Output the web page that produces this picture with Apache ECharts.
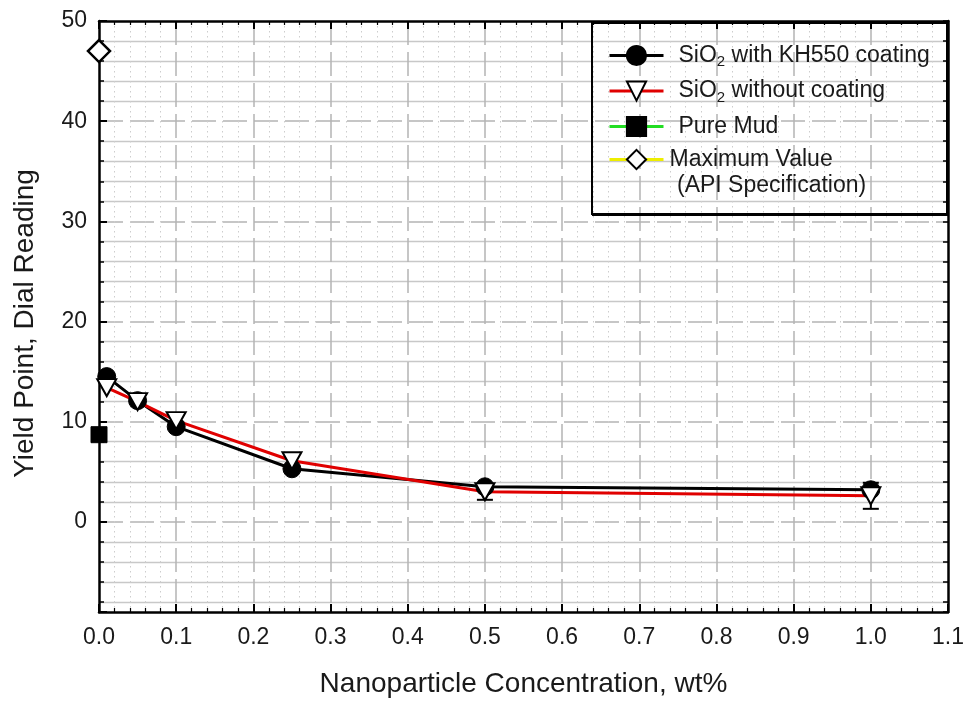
<!DOCTYPE html>
<html>
<head>
<meta charset="utf-8">
<script src="https://cdn.jsdelivr.net/npm/echarts@6/dist/echarts.min.js"></script>
<style>
  html, body { margin: 0; padding: 0; background: #ffffff; }
  #chart { width: 968px; height: 704px; }
</style>
</head>
<body>
<div id="chart"></div>
<script>
// Yield point vs. nanoparticle concentration
const concentration = [0.01, 0.05, 0.1, 0.25, 0.5, 1.0];
const withCoating = [14.5, 12.1, 9.5, 5.3, 3.5, 3.2];
const withoutCoating = [13.4, 12.0, 10.1, 6.1, 3.0, 2.6];
const withoutCoatingErr = [0, 0, 0, 0, 0.8, 1.3];
const pureMud = [[0, 8.7]];
const apiMaximum = [[0, 47]];

const seriesNames = ['SiO2 with KH550 coating', 'SiO2 without coating', 'Pure Mud', 'Maximum Value'];
const xTitle = 'Nanoparticle Concentration, wt%';
const yTitle = 'Yield Point, Dial Reading';
const apiNote = '(API Specification)';

const X_MIN = 0, X_MAX = 1.1, X_STEP = 0.1;
const Y_MIN = -9, Y_MAX = 50;

const FONT = '"Liberation Sans", Arial, sans-serif';
const TXT = '#1a1a1a';

const zip = (xs, ys) => xs.map((x, i) => [x, ys[i]]);
const errData = concentration
  .map((x, i) => [x, withoutCoating[i] - withoutCoatingErr[i], withoutCoating[i] + withoutCoatingErr[i], withoutCoatingErr[i]])
  .filter(d => d[3] > 0)
  .map(d => [d[0], d[1], d[2]]);

const chart = echarts.init(document.getElementById('chart'), null, { renderer: 'canvas' });

const frameLine = { onZero: false, lineStyle: { color: '#000', width: 2.5 } };

chart.setOption({
  animation: false,
  backgroundColor: '#ffffff',
  grid: { left: 99, right: 20, top: 21, bottom: 92, containLabel: false },
  xAxis: [
    { // bottom axis: frame, ticks, labels and grid lines
      type: 'value', position: 'bottom', min: X_MIN, max: X_MAX, interval: X_STEP,
      axisLine: frameLine,
      axisTick: { inside: true, length: 8, lineStyle: { color: '#000', width: 2 } },
      minorTick: { show: true, splitNumber: 5, length: 4, lineStyle: { color: '#000', width: 1.2 } },
      axisLabel: { formatter: v => v.toFixed(1), fontSize: 23, fontFamily: FONT, color: TXT, margin: 14 },
      splitLine: { show: true, showMinLine: false, showMaxLine: false,
        lineStyle: { color: '#b4b4b4', width: 1.5, type: [24, 7] } },
      minorSplitLine: { show: true, lineStyle: { color: '#cdcdcd', width: 1, type: [1.5, 3.5] } },
      name: xTitle, nameLocation: 'middle', nameGap: 58,
      nameTextStyle: { fontSize: 28, fontFamily: FONT, color: TXT }
    },
    { // top frame
      type: 'value', position: 'top', min: X_MIN, max: X_MAX, interval: X_STEP,
      axisLine: frameLine,
      axisTick: { inside: true, length: 8, lineStyle: { color: '#000', width: 2 } },
      minorTick: { show: true, splitNumber: 5, length: 4, lineStyle: { color: '#000', width: 1.2 } },
      axisLabel: { show: false },
      splitLine: { show: false }
    }
  ],
  yAxis: [
    { // left axis: frame, major ticks, labels, dashed major grid
      type: 'value', position: 'left', min: Y_MIN, max: Y_MAX, minInterval: 10, maxInterval: 10,
      axisLine: frameLine,
      axisTick: { inside: true, length: 8, lineStyle: { color: '#000', width: 2 } },
      axisLabel: { formatter: v => (v < 0 ? '' : String(v)), fontSize: 23, fontFamily: FONT, color: TXT, margin: 12 },
      splitLine: { show: true, showMinLine: false, showMaxLine: false,
        lineStyle: { color: '#b4b4b4', width: 1.5, type: [24, 7] } },
      name: yTitle, nameLocation: 'middle', nameGap: 60,
      nameTextStyle: { fontSize: 28, fontFamily: FONT, color: TXT, padding: [0, 14, 0, 0] }
    },
    { // left minor ticks every 2 units and solid minor grid
      type: 'value', position: 'left', min: Y_MIN, max: Y_MAX, minInterval: 2, maxInterval: 2,
      axisLine: { show: false },
      axisTick: { inside: true, length: 5, lineStyle: { color: '#000', width: 1.5 } },
      axisLabel: { show: false },
      splitLine: { show: true,
        lineStyle: { color: ['rgba(0,0,0,0)', '#c8c8c8', '#c8c8c8', '#c8c8c8', '#c8c8c8'], width: 1.3 } }
    },
    { // right frame
      type: 'value', position: 'right', min: Y_MIN, max: Y_MAX, minInterval: 2, maxInterval: 2,
      axisLine: frameLine,
      axisTick: { inside: true, length: 5, lineStyle: { color: '#000', width: 1.5 } },
      axisLabel: { show: false },
      splitLine: { show: false }
    }
  ],
  legend: {
    orient: 'vertical', left: 608, top: 44, padding: 0,
    itemWidth: 54, itemHeight: 24, itemGap: 10,
    selectedMode: false,
    lineStyle: { width: 3 },
    data: [
      { name: seriesNames[0] },
      { name: seriesNames[1] },
      { name: seriesNames[2] },
      { name: seriesNames[3], textStyle: { padding: [0, 0, 0, 1] } }
    ],
    formatter: name => name.replace('SiO2', 'SiO{sub|2}'),
    textStyle: {
      fontSize: 23, fontFamily: FONT, color: TXT, padding: [0, 0, 0, 10],
      rich: { sub: { fontSize: 15, fontFamily: FONT, color: TXT, verticalAlign: 'bottom', lineHeight: 28 } }
    }
  },
  graphic: [
    { type: 'rect', z: 10, silent: true,
      shape: { x: 592, y: 23, width: 355, height: 191 },
      style: { fill: 'none', stroke: '#000', lineWidth: 2 } },
    { type: 'polyline', z: 10, silent: true,
      shape: { points: [[948, 23], [948, 215], [592, 215]] },
      style: { fill: 'none', stroke: '#000', lineWidth: 2 } },
    { type: 'text', z: 10, silent: true, x: 677, y: 186,
      style: { text: apiNote, font: '23px ' + FONT, fill: TXT, verticalAlign: 'middle', align: 'left' } }
  ],
  series: [
    {
      name: seriesNames[0], type: 'line', data: zip(concentration, withCoating),
      symbol: 'circle', symbolSize: 18,
      lineStyle: { color: '#000', width: 3 },
      itemStyle: { color: '#000', borderColor: '#000', borderWidth: 1 }
    },
    {
      name: 'error', type: 'custom', data: errData,
      encode: { x: 0, y: [1, 2] },
      renderItem: (params, api) => {
        const x = api.value(0);
        const lo = api.coord([x, api.value(1)]);
        const hi = api.coord([x, api.value(2)]);
        const cap = 8;
        const st = { stroke: '#000', lineWidth: 2 };
        return {
          type: 'group',
          children: [
            { type: 'line', shape: { x1: lo[0], y1: lo[1], x2: hi[0], y2: hi[1] }, style: st },
            { type: 'line', shape: { x1: lo[0] - cap, y1: lo[1], x2: lo[0] + cap, y2: lo[1] }, style: st },
            { type: 'line', shape: { x1: hi[0] - cap, y1: hi[1], x2: hi[0] + cap, y2: hi[1] }, style: st }
          ]
        };
      }
    },
    {
      name: seriesNames[1], type: 'line', data: zip(concentration, withoutCoating),
      symbol: 'path://M0,0L20,0L10,17Z', symbolSize: [19, 17],
      lineStyle: { color: '#e00000', width: 3 },
      itemStyle: { color: '#ffffff', borderColor: '#000', borderWidth: 2 }
    },
    {
      name: seriesNames[2], type: 'line', data: pureMud,
      symbol: 'rect', symbolSize: 16,
      lineStyle: { color: '#22dd22', width: 3 },
      itemStyle: { color: '#000', borderColor: '#000', borderWidth: 1 }
    },
    {
      name: seriesNames[3], type: 'line', data: apiMaximum,
      symbol: 'diamond', symbolSize: 22,
      lineStyle: { color: '#eeee00', width: 3 },
      itemStyle: { color: '#ffffff', borderColor: '#000', borderWidth: 2.5 }
    }
  ]
});
</script>
</body>
</html>
